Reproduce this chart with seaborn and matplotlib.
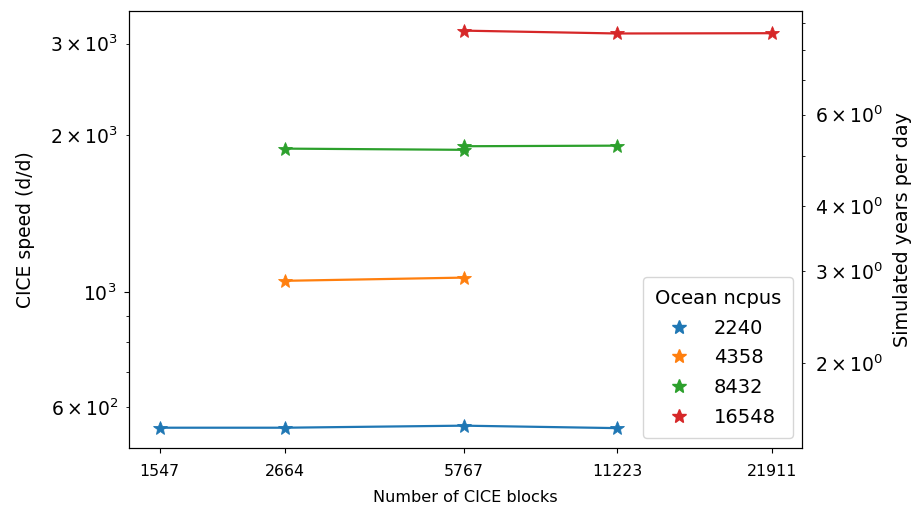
import matplotlib
matplotlib.use("Agg")
import matplotlib.pyplot as plt
import seaborn as sns
import pandas as pd

# Data
ocean_ncpus = [2240, 2240, 2240, 2240,
               4358, 4358,
               8432, 8432, 8432, 8432,
               16548, 16548, 16548]
cice_blocks = [1547, 2664, 5767, 11223,
               2664, 5767,
               2664, 5767, 5767, 11223,
               5767, 11223, 21911]
cice_speed = [548, 548, 553, 547,
              1050, 1065,
              1885, 1875, 1905, 1910,
              3178, 3138, 3142]
xtick_values = [1547, 2664, 5767, 11223, 21911]
days_per_year = 365

df = pd.DataFrame({"ncpus": ocean_ncpus, "blocks": cice_blocks, "speed": cice_speed})
df["ncpus"] = df["ncpus"].astype(str)
hue_order = ["2240", "4358", "8432", "16548"]
palette = dict(zip(hue_order, sns.color_palette("tab10", 4)))

fig = plt.figure(figsize=(9.16, 5.12), dpi=100)
ax = fig.add_axes([0.141, 0.125, 0.735, 0.854])

sns.lineplot(data=df, x="blocks", y="speed", hue="ncpus", hue_order=hue_order,
             palette=palette, sort=False, estimator=None, legend=False, ax=ax,
             linewidth=1.6, marker="*", markersize=10, markeredgewidth=0.6)
for ln in ax.lines:
    ln.set_markeredgecolor(ln.get_color())

ax.set_xscale("log")
ax.set_yscale("log")
ax.set_xticks(xtick_values)
ax.set_xticklabels([str(v) for v in xtick_values])
ax.xaxis.set_minor_locator(matplotlib.ticker.NullLocator())
ax.tick_params(axis="x", labelsize=11.3, pad=8)
ax.tick_params(axis="y", which="both", labelsize=13.5, pad=5.5)
ax.set_xlabel("Number of CICE blocks", fontsize=11.6, labelpad=8)
ax.set_ylabel("CICE speed (d/d)", fontsize=13.5, labelpad=11)

handles = [matplotlib.lines.Line2D([], [], color=palette[h], marker="*", linestyle="",
                                   markersize=10) for h in hue_order]
ax.legend(handles, hue_order, title="Ocean ncpus", loc="lower right",
          fontsize=14, title_fontsize=14, borderpad=0.6, labelspacing=0.55)

ax2 = ax.twinx()
ax2.set_yscale("log")
lo, hi = ax.get_ylim()
ax2.set_ylim(lo / days_per_year, hi / days_per_year)
ax2.tick_params(axis="y", which="both", labelsize=13.5, pad=7)
ax2.set_ylabel("Simulated years per day", fontsize=13.8, labelpad=7)

fig.savefig("out.png", dpi=100)
